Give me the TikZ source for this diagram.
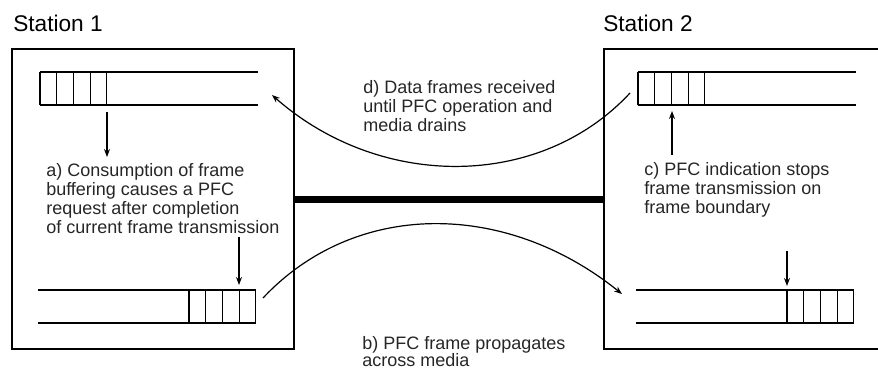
\documentclass[tikz,border=0pt]{standalone}
\usepackage{fontspec}
\setmainfont{Liberation Sans}
\usetikzlibrary{arrows.meta}
\tikzset{
  station/.style={draw, line width=1pt, inner sep=0pt},
  queue line/.style={line width=0.8pt},
  link/.style={line width=5.25pt},
  pfc arrow/.style={-{Stealth[length=6pt,width=4.5pt]}, line width=0.9pt},
  station label/.style={font=\fontsize{17}{20}\selectfont, inner sep=0pt, anchor=base west},
  note/.style={align=left, font=\fontsize{13.5}{14.25}\selectfont, inner sep=0pt,
               anchor=base west, text=black!85},
}

\begin{document}
\begin{tikzpicture}[x=0.75pt, y=-0.75pt]
  \clip (0,0) rectangle (878,369);
  % stations
  \node[station, minimum width=211.5pt, minimum height=225pt] (st1) at (153,199) {};
  \node[station, minimum width=208.5pt, minimum height=225pt] (st2) at (743,199) {};
  \node[station label] (st1 name) at (13,31.5) {Station 1};
  \node[station label] (st2 name) at (603,31.5) {Station 2};
  \draw[link] (st1.east) -- (st2.west);

  % queues: left end, right end, top y, first cell x
  \foreach \xa/\xb/\yt/\xc in {40/258/72/40, 38/256/290/189, 638/856/72/638, 636/854/290/787}{
    \draw[queue line] (\xa,\yt) -- (\xb,\yt) (\xa,\yt+33) -- (\xb,\yt+33);
    \foreach \i in {0,...,4}
      \draw[queue line] (\xc+\i*16.7,\yt) -- (\xc+\i*16.7,\yt+33);
  }

  % notes (anchored on the last line)
  \node[note] (note a) at (46,233) {a) Consumption of frame\\buffering causes a PFC\\request after completion\\of current frame transmission};
  \node[note] (note c) at (644,213) {c) PFC indication stops\\frame transmission on\\frame boundary};
  \node[note] (note d) at (363,131) {d) Data frames received\\until PFC operation and\\media drains};
  \node[note, font=\fontsize{13.5}{12.75}\selectfont] (note b) at (362,366) {b) PFC frame propagates\\across media};

  % arrows
  \coordinate (a1-from) at (107,112);  \coordinate (a1-to) at (107,157);
  \coordinate (a2-from) at (239,237);  \coordinate (a2-to) at (239,285);
  \coordinate (c1-from) at (672,155);  \coordinate (c1-to) at (672,111);
  \coordinate (c2-from) at (787,251);  \coordinate (c2-to) at (787,286);
  \foreach \n in {a1,a2,c1,c2}{\draw[pfc arrow] (\n-from) -- (\n-to);}

  \coordinate (b-from) at (263,298);   \coordinate (b-to) at (622,294);
  \coordinate (d-from) at (630,93);    \coordinate (d-to) at (272,95);
  \draw[pfc arrow] (b-from) .. controls (355,200) and (505,200) .. (b-to);
  \draw[pfc arrow] (d-from) .. controls (540,190) and (380,190) .. (d-to);
\end{tikzpicture}
\end{document}
